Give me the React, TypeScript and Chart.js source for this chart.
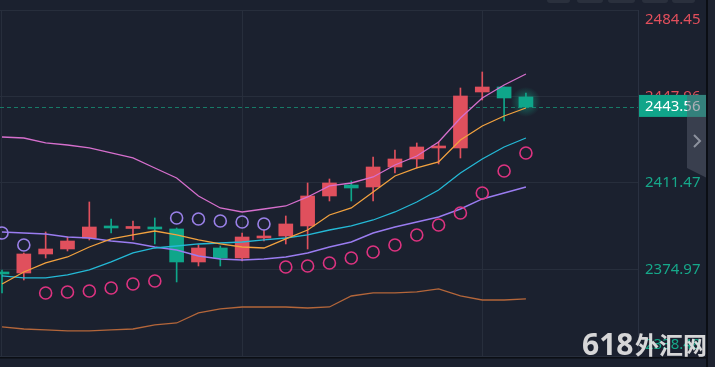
import React, { useEffect, useRef } from "react";
import { Chart, registerables } from "chart.js";
Chart.register(...registerables);

// ---- data ----
const opens = [2373.5, 2373.5, 2381.52, 2383.63, 2388.27, 2393.12, 2392.28, 2392.91, 2392.07, 2378.15, 2384.05, 2379.83, 2388.27, 2389.11, 2393.33, 2405.99, 2410.63, 2409.78, 2418.22, 2421.6, 2426.24, 2426.24, 2449.86, 2451.97, 2447.75];
const highs = [2374.77, 2381.94, 2390.8, 2388.69, 2403.46, 2396.28, 2395.44, 2396.71, 2392.49, 2385.32, 2384.89, 2390.38, 2391.64, 2397.55, 2411.47, 2413.16, 2412.32, 2422.44, 2425.39, 2428.35, 2428.77, 2451.55, 2458.3, 2451.97, 2449.44];
const lows = [2365.07, 2370.55, 2379.83, 2382.79, 2387.43, 2390.38, 2387.43, 2385.74, 2369.71, 2376.46, 2376.46, 2378.57, 2387.0, 2385.74, 2383.63, 2403.88, 2403.88, 2403.88, 2415.69, 2417.8, 2419.49, 2422.02, 2446.48, 2437.63, 2443.56];
const closes = [2373.08, 2381.52, 2383.63, 2387.0, 2392.91, 2392.49, 2392.7, 2392.07, 2378.15, 2384.05, 2379.83, 2388.69, 2389.11, 2394.18, 2405.99, 2411.47, 2409.36, 2418.22, 2421.6, 2426.66, 2426.66, 2448.17, 2451.97, 2447.33, 2443.56];

const linePink = [2430.88, 2430.45, 2428.35, 2427.5, 2426.24, 2424.13, 2422.02, 2417.8, 2413.58, 2405.99, 2400.93, 2399.24, 2400.5, 2401.77, 2405.57, 2410.21, 2411.47, 2414.0, 2419.06, 2422.86, 2428.77, 2438.89, 2447.33, 2452.81, 2457.45];
const lineOrange = [2368.86, 2373.93, 2377.72, 2380.25, 2384.47, 2387.85, 2389.54, 2391.22, 2389.54, 2387.43, 2385.74, 2384.47, 2384.05, 2387.85, 2391.64, 2397.97, 2400.93, 2407.67, 2414.42, 2417.8, 2420.33, 2429.61, 2435.52, 2439.74, 2443.11];
const lineCyan = [2372.24, 2371.4, 2371.4, 2372.66, 2374.77, 2378.15, 2381.94, 2384.05, 2384.89, 2385.74, 2386.16, 2386.58, 2387.43, 2388.27, 2389.54, 2391.64, 2393.33, 2395.86, 2399.24, 2403.46, 2408.52, 2415.69, 2421.6, 2426.66, 2430.45];
const linePurple = [2390.8, 2390.38, 2389.96, 2388.69, 2388.27, 2387.0, 2386.16, 2384.47, 2383.21, 2380.68, 2379.41, 2378.99, 2379.41, 2380.25, 2381.94, 2384.47, 2386.58, 2390.38, 2392.91, 2395.02, 2397.13, 2400.5, 2404.72, 2407.25, 2409.78];
const lineBrown = [2350.73, 2349.88, 2349.46, 2349.04, 2349.04, 2349.46, 2349.88, 2351.57, 2352.41, 2356.63, 2358.32, 2359.16, 2359.16, 2359.16, 2358.74, 2359.16, 2363.8, 2365.07, 2365.07, 2365.49, 2366.76, 2363.8, 2362.11, 2362.11, 2362.54];

const sarValues = [2390.38, 2385.32, 2365.07, 2365.49, 2365.91, 2367.18, 2368.86, 2370.13, 2396.71, 2396.28, 2395.44, 2395.02, 2394.18, 2376.04, 2376.46, 2377.72, 2379.83, 2382.36, 2385.32, 2389.54, 2393.75, 2398.82, 2407.25, 2416.53, 2424.13];
const sarSide = ["above", "above", "below", "below", "below", "below", "below", "below", "above", "above", "above", "above", "above", "below", "below", "below", "below", "below", "below", "below", "below", "below", "below", "below", "below"];

const yTickValues = [2338.48, 2374.97, 2411.47, 2447.96, 2484.45];
const lastPrice = 2443.56;
const xGridIndices = [0, 11, 22];
const watermarkDigits = "618";
const watermarkHan = "外汇网";

// ---- styles ----
const BG = "#1b212f";
const GRID = "#272e3c";
const RED = "#e0505d";
const TEAL = "#0fa68a";
const X_MIN = -0.0916;
const X_MAX = 29.134;

export default function App() {
  const ref = useRef<HTMLCanvasElement>(null);

  useEffect(() => {
    document.body.style.margin = "0";
    document.body.style.background = BG;
    const canvas = ref.current!;
    const idx = opens.map((_, i) => i);
    const colors = idx.map((i) => (closes[i] >= opens[i] ? RED : TEAL));

    const decor = {
      id: "decor",
      beforeDraw(chart: any) {
        const ctx = chart.ctx;
        ctx.save();
        ctx.fillStyle = BG;
        ctx.fillRect(0, 0, chart.width, chart.height);
        ctx.fillStyle = "#2a303d";
        const btns = [[547, 23], [577, 26], [608, 27], [642, 26], [672, 23]];
        for (const [bx, bw] of btns) {
          ctx.beginPath();
          (ctx as any).roundRect(bx, -6, bw, 9, 3);
          ctx.fill();
        }
        ctx.restore();
      },
      beforeDatasetsDraw(chart: any) {
        const ctx = chart.ctx;
        const a = chart.chartArea;
        const ys = chart.scales.y;
        const xs = chart.scales.x;
        const py = Math.round(ys.getPixelForValue(lastPrice)) + 0.5;
        ctx.save();
        ctx.strokeStyle = "#177a67";
        ctx.lineWidth = 1;
        ctx.setLineDash([4, 3]);
        ctx.beginPath();
        ctx.moveTo(a.left, py);
        ctx.lineTo(a.right, py);
        ctx.stroke();
        ctx.setLineDash([]);
        const li = opens.length - 1;
        const gx = xs.getPixelForValue(li);
        const gy = ys.getPixelForValue((opens[li] + closes[li]) / 2);
        const g = ctx.createRadialGradient(gx, gy, 2, gx, gy, 15);
        g.addColorStop(0, "rgba(20,190,150,0.45)");
        g.addColorStop(1, "rgba(20,190,150,0)");
        ctx.fillStyle = g;
        ctx.beginPath();
        ctx.arc(gx, gy, 15, 0, Math.PI * 2);
        ctx.fill();
        ctx.restore();
      },
      afterDraw(chart: any) {
        const ctx = chart.ctx;
        const a = chart.chartArea;
        const ys = chart.scales.y;
        ctx.save();
        ctx.font = '15px "Noto Sans"';
        ctx.textBaseline = "middle";
        ctx.textAlign = "left";
        for (const v of yTickValues) {
          const p = ys.getPixelForValue(v);
          const cy = Math.min(Math.max(p, a.top + 10), a.bottom - 11);
          ctx.fillStyle = v > lastPrice ? "#e14f5c" : "#16a88a";
          ctx.fillText(v.toFixed(2), 645, cy);
        }
        const py = ys.getPixelForValue(lastPrice);
        ctx.fillStyle = "#10a58a";
        ctx.fillRect(639, py - 12, 68, 22);
        ctx.fillStyle = "#ffffff";
        ctx.fillText(lastPrice.toFixed(2), 645, py);
        ctx.fillStyle = "rgba(88,94,110,0.5)";
        ctx.beginPath();
        ctx.moveTo(687, py - 12);
        ctx.lineTo(707, py - 12);
        ctx.lineTo(707, py + 71);
        ctx.lineTo(687, py + 61);
        ctx.closePath();
        ctx.fill();
        ctx.strokeStyle = "#8d929e";
        ctx.lineWidth = 2;
        ctx.beginPath();
        ctx.moveTo(694, py + 28);
        ctx.lineTo(700, py + 34);
        ctx.lineTo(694, py + 40);
        ctx.stroke();
        ctx.fillStyle = "#0b0e14";
        ctx.fillRect(706, 0, 2, chart.height);
        ctx.fillStyle = "#1e2330";
        ctx.fillRect(708, 0, 7, chart.height);
        ctx.fillStyle = "#0b0e14";
        ctx.fillRect(0, a.bottom + 1, 706, 1.5);
        ctx.globalAlpha = 0.92;
        ctx.fillStyle = "#e6e6e6";
        ctx.textBaseline = "alphabetic";
        ctx.font = 'bold 30px "Noto Sans"';
        ctx.fillText(watermarkDigits, 582, 355);
        ctx.font = 'bold 24px "Noto Sans CJK SC"';
        ctx.fillText(watermarkHan, 635, 354);
        ctx.restore();
      },
    };

    const chart = new Chart(canvas, {
      type: "bar",
      data: {
        datasets: [
          {
            type: "bar",
            data: idx.map((i) => ({ x: i, y: [lows[i], highs[i]] })) as any,
            backgroundColor: colors,
            barThickness: 1,
            grouped: false,
            order: 10,
          } as any,
          {
            type: "bar",
            data: idx.map((i) => ({ x: i, y: [opens[i], closes[i]] })) as any,
            backgroundColor: colors,
            barThickness: 14,
            minBarLength: 2,
            grouped: false,
            order: 9,
          } as any,
          { type: "line", data: idx.map((i) => ({ x: i, y: lineBrown[i] })), borderColor: "#b4663a", borderWidth: 1.3, pointRadius: 0, order: 6 } as any,
          { type: "line", data: idx.map((i) => ({ x: i, y: linePurple[i] })), borderColor: "#9a7cf0", borderWidth: 1.4, pointRadius: 0, order: 5 } as any,
          { type: "line", data: idx.map((i) => ({ x: i, y: lineCyan[i] })), borderColor: "#24b9d6", borderWidth: 1.3, pointRadius: 0, order: 4 } as any,
          { type: "line", data: idx.map((i) => ({ x: i, y: lineOrange[i] })), borderColor: "#f2a23f", borderWidth: 1.3, pointRadius: 0, order: 3 } as any,
          { type: "line", data: idx.map((i) => ({ x: i, y: linePink[i] })), borderColor: "#d66fcd", borderWidth: 1.3, pointRadius: 0, order: 2 } as any,
          {
            type: "line",
            data: idx.map((i) => ({ x: i, y: sarValues[i] })),
            showLine: false,
            pointRadius: 6,
            pointHoverRadius: 6,
            pointBorderWidth: 1.6,
            pointBackgroundColor: "rgba(0,0,0,0)",
            pointBorderColor: sarSide.map((s) => (s === "above" ? "#9a80e8" : "#dd3380")),
            order: 1,
          } as any,
        ],
      },
      options: {
        responsive: false,
        animation: false,
        devicePixelRatio: 1,
        layout: { autoPadding: false, padding: { top: 10, left: 0, right: 0, bottom: 0 } },
        plugins: { legend: { display: false }, tooltip: { enabled: false } },
        scales: {
          x: {
            type: "linear",
            position: "bottom",
            min: X_MIN,
            max: X_MAX,
            offset: false,
            afterBuildTicks: (s: any) => {
              s.ticks = xGridIndices.map((v) => ({ value: v }));
            },
            afterFit: (s: any) => {
              s.height = 11;
              s.paddingLeft = 0;
              s.paddingRight = 0;
            },
            ticks: { display: false },
            grid: { color: GRID, drawTicks: false, offset: false },
            border: { display: false },
          },
          y: {
            type: "linear",
            position: "right",
            min: yTickValues[0],
            max: yTickValues[yTickValues.length - 1],
            afterBuildTicks: (s: any) => {
              s.ticks = yTickValues.map((v) => ({ value: v }));
            },
            afterFit: (s: any) => {
              s.width = 77;
              s.paddingTop = 0;
              s.paddingBottom = 0;
            },
            ticks: { display: false },
            grid: { color: GRID, drawTicks: false },
            border: { display: true, color: "#2a3141" },
          },
        } as any,
      },
      plugins: [decor],
    });
    return () => chart.destroy();
  }, []);

  return (
    <div style={{ position: "fixed", left: 0, top: 0, width: 715, height: 367, background: BG }}>
      <canvas ref={ref} width={715} height={367} style={{ display: "block", width: 715, height: 367 }} />
    </div>
  );
}
